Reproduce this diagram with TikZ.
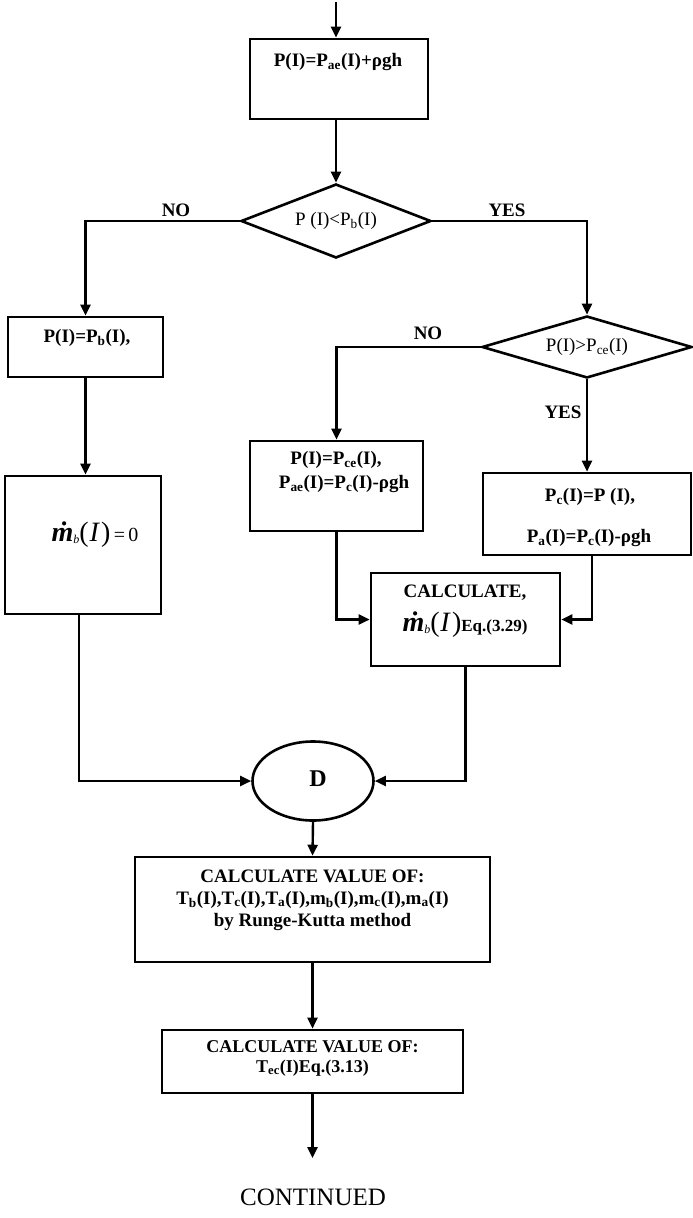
\documentclass[tikz,border=0pt]{standalone}
\usepackage{fontspec}
\setmainfont{Liberation Serif}
\usetikzlibrary{arrows.meta,shapes.geometric}
\newcommand\mdotb{{\fontsize{28}{28}\selectfont\bfseries\itshape\.m}\raisebox{-0.2em}{\fontsize{12}{12}\selectfont\itshape b}{\fontsize{28}{28}\selectfont(\kern0.03em{\itshape I}\kern0.08em)}}
\tikzset{
  pbox/.style={draw, line width=2.6pt, inner sep=0pt},
  dec/.style={draw, diamond, line width=2.6pt, inner sep=0pt},
  conn/.style={line width=2.4pt, -{Triangle[length=11pt,width=10pt]}},
  plain/.style={line width=2.4pt},
  tb/.style={font=\fontsize{19}{22}\selectfont\bfseries, inner sep=0pt},
  tr/.style={font=\fontsize{19}{22}\selectfont, inner sep=0pt},
}
\begin{document}
\begin{tikzpicture}[x=1pt,y=-1pt]
\useasboundingbox (0,0) rectangle (693,1218);
% boxes
\node[pbox, minimum width=178pt, minimum height=80pt] (b1) at (339,79) {};
\node[dec, minimum width=190pt, minimum height=74pt] (d1) at (336,221) {};
\node[pbox, minimum width=155pt, minimum height=60pt] (bpb) at (85.5,347) {};
\node[dec, minimum width=210pt, minimum height=62pt] (d2) at (587,347) {};
\node[pbox, minimum width=156pt, minimum height=138pt] (bm0) at (83,545) {};
\node[pbox, minimum width=173pt, minimum height=90pt] (b3) at (336.5,486) {};
\node[pbox, minimum width=208pt, minimum height=82pt] (b4) at (587,514) {};
\node[pbox, minimum width=189pt, minimum height=93pt] (b5) at (465.5,619.5) {};
\node[draw, ellipse, line width=2.6pt, minimum width=121pt, minimum height=79pt, inner sep=0pt] (el) at (313,781) {};
\node[pbox, minimum width=355pt, minimum height=105pt] (b6) at (312.5,909.5) {};
\node[pbox, minimum width=301pt, minimum height=63pt] (b7) at (312.5,1061.5) {};
\coordinate (start) at (336,2);
\coordinate (stop) at (312.5,1158);
% texts
\node[tb] (t1) at (338,62) {P(I)=P\textsubscript{ae}(I)+ρgh};
\node[tr] (td1) at (336,221) {P (I)<P\textsubscript{b}(I)};
\node[tr] (td2) at (587,347) {P(I)>P\textsubscript{ce}(I)};
\node[tb] (tpb) at (87,338) {P(I)=P\textsubscript{b}(I),};
\node[inner sep=0pt] (tm0) at (95,535) {\mdotb{\fontsize{20}{20}\selectfont\,=\,0}};
\node[tb] (t3a) at (336,460) {P(I)=P\textsubscript{ce}(I),};
\node[tb] (t3b) at (344,484) {P\textsubscript{ae}(I)=P\textsubscript{c}(I)-ρgh};
\node[tb] (t4a) at (590,497) {P\textsubscript{c}(I)=P (I),};
\node[tb] (t4b) at (589,538) {P\textsubscript{a}(I)=P\textsubscript{c}(I)-ρgh};
\node[tb] (t5a) at (465,593) {CALCULATE,};
\node[inner sep=0pt] (t5b) at (465,625) {\mdotb{\fontsize{17}{17}\selectfont\bfseries Eq.(3.29)}};
\node[font=\fontsize{24}{24}\selectfont\bfseries, inner sep=0pt] (tD) at (318,779) {D};
\node[tb, align=center] (t6) at (312.5,900) {CALCULATE VALUE OF:\\T\textsubscript{b}(I),T\textsubscript{c}(I),T\textsubscript{a}(I),m\textsubscript{b}(I),m\textsubscript{c}(I),m\textsubscript{a}(I)\\by Runge-Kutta method};
\node[tb, font=\fontsize{18}{20}\selectfont\bfseries, align=center] (t7) at (312.5,1058) {CALCULATE VALUE OF:\\T\textsubscript{ec}(I)Eq.(3.13)};
\node[tr, font=\fontsize{25}{25}\selectfont] (tc) at (313,1197) {CONTINUED};
\node[tb] (lno1) at (176,210) {NO};
\node[tb] (lyes1) at (507,210) {YES};
\node[tb] (lno2) at (428,333) {NO};
\node[tb] (lyes2) at (563,412) {YES};
% connectors
\draw[conn] (start) -- (start |- b1.north);
\draw[conn] (b1.south -| d1.north) -- (d1.north);
\draw[conn] (d1.west) -| (bpb.north);
\draw[conn] (d1.east) -| (d2.north);
\draw[conn] (bpb.south) -- (bpb.south |- bm0.north);
\draw[conn] (d2.west) -| (b3.north);
\draw[conn] (d2.south) -- (b4.north);
\draw[conn] (b3.south) |- (b5.west);
\draw[conn] ([xshift=5pt]b4.south) |- (b5.east);
\draw[conn] ([xshift=-4pt]bm0.south) |- (el.west);
\draw[conn] (b5.south) |- (el.east);
\draw[conn] (el.south) -- (b6.north);
\draw[conn] (b6.south) -- (b7.north);
\draw[conn] (b7.south) -- (stop);
\end{tikzpicture}
\end{document}
